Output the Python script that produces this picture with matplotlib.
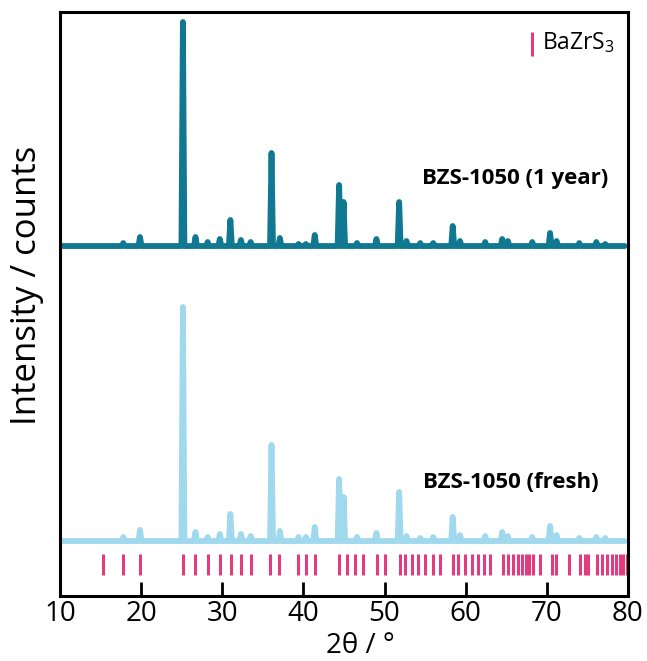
import matplotlib
matplotlib.use('Agg')
from matplotlib import pyplot as plt
import numpy as np

plt.rcParams['font.family'] = ['Liberation Sans Narrow', 'Open Sans', 'DejaVu Sans']
plt.rcParams['mathtext.fontset'] = 'custom'
plt.rcParams['mathtext.rm'] = 'Open Sans'

# peak positions (2theta, deg) and net heights (counts) of the two scans
peak_pos = [17.8, 19.86, 25.15, 26.7, 28.2, 29.7, 31.0, 32.3, 33.5, 36.07,
            37.1, 39.4, 40.3, 41.4, 44.4, 44.95, 46.6, 49.0, 51.8, 52.7,
            54.4, 56.0, 58.4, 59.3, 62.4, 64.5, 65.2, 68.2, 70.4, 71.2,
            74.0, 76.1, 77.2]
fresh_h = [40, 110, 2340, 90, 40, 70, 270, 70, 50, 960,
           100, 40, 40, 140, 620, 440, 40, 80, 490, 50,
           30, 40, 240, 60, 50, 90, 50, 40, 150, 60,
           30, 40, 30]
year_h = [30, 90, 2240, 90, 40, 70, 260, 60, 40, 930,
          80, 20, 20, 110, 610, 440, 30, 70, 440, 50,
          30, 30, 200, 50, 40, 70, 50, 40, 130, 50,
          30, 40, 20]

fresh_base = 550
year_base = 3500

# BaZrS3 reference reflections
ref_pos = [15.34, 17.80, 19.86, 25.20, 26.64, 28.28, 29.72, 31.07, 32.27, 33.54,
           35.88, 37.03, 39.37, 40.32, 41.43, 44.42, 45.40, 46.36, 47.31, 49.03,
           50.05, 51.90, 52.52, 53.34, 54.16, 54.98, 55.93, 56.83, 58.40, 59.09,
           59.91, 60.74, 61.56, 62.26, 63.00, 64.60, 65.20, 65.80, 66.40, 66.90,
           67.40, 67.80, 68.30, 69.10, 70.60, 71.10, 72.70, 74.10, 74.70, 75.10,
           76.20, 76.80, 77.40, 78.00, 78.50, 79.00, 79.40, 79.85]


def trace(pos, h, base, hw=0.18, start=10.0, end=79.6):
    x = [start]
    y = [base]
    for p, v in zip(pos, h):
        x += [p - hw, p, p + hw]
        y += [base, base + v, base]
    x.append(end)
    y.append(base)
    return np.array(x), np.array(y)


fig = plt.figure(figsize=(6.47, 6.61), dpi=100)
ax = fig.add_axes([0.0927, 0.0983, 0.8779, 0.8835])

x, y = trace(peak_pos, fresh_h, fresh_base)
ax.plot(x, y, color='#A0D8EE', lw=4.2, solid_joinstyle='round', solid_capstyle='round')
x, y = trace(peak_pos, year_h, year_base)
ax.plot(x, y, color='#107891', lw=4.2, solid_joinstyle='round', solid_capstyle='round')

ax.vlines(ref_pos, 210, 420, color='#E23C7E', lw=2.2)

ax.text(77.54, 4180, 'BZS-1050 (1 year)', ha='right', va='center',
        fontsize=16, fontweight='bold')
ax.text(76.43, 1140, 'BZS-1050 (fresh)', ha='right', va='center',
        fontsize=16, fontweight='bold')

# legend entry for the reference pattern
ax.vlines(68.13, 5400, 5643, color='#E23C7E', lw=2.2)
ax.text(69.37, 5530, 'BaZrS$_\\mathregular{3}$', ha='left', va='center', fontsize=16.5)

ax.set_xlim(10, 80)
ax.set_ylim(0, 5840)
ax.set_xticks(np.arange(10, 81, 10))
ax.set_yticks([])
ax.tick_params(axis='x', direction='in', length=10, width=2, labelsize=20, pad=3)
for s in ax.spines.values():
    s.set_linewidth(2.2)
ax.set_xlabel('2θ / °', fontsize=20, labelpad=0)
ax.xaxis.set_label_coords(0.528, -0.062)
ax.set_ylabel('Intensity / counts', fontsize=25)
ax.yaxis.set_label_coords(-0.028, 0.532)

plt.savefig('out.png', dpi=100)
